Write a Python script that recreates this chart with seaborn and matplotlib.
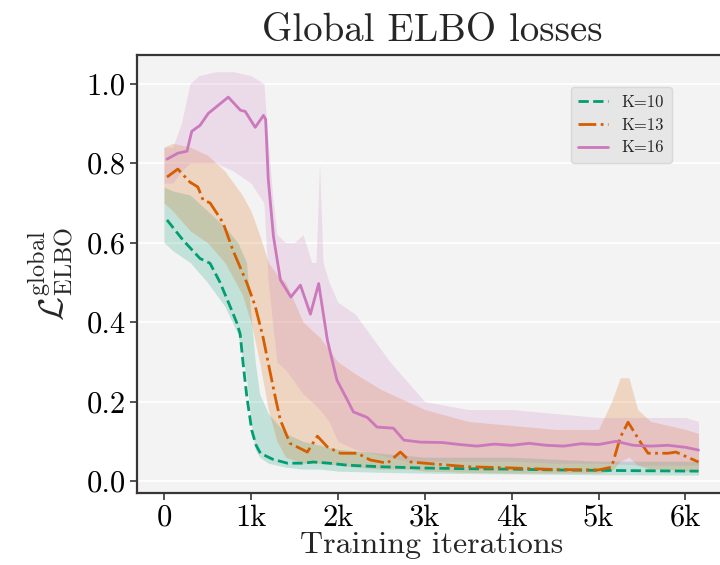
import numpy as np
import pandas as pd
import matplotlib
matplotlib.use("Agg")
import matplotlib.pyplot as plt
import seaborn as sns
from matplotlib.ticker import FuncFormatter

# ---------------- data ----------------
k10_x = [35, 220, 415, 530, 645, 760, 840, 877, 910, 955, 1010, 1060, 1110, 1250, 1420,
         1600, 1720, 1900, 2110, 2500, 2950, 3500, 4000, 4500, 5000, 5500, 6150]
k10_y = [0.657, 0.606, 0.56, 0.548, 0.5, 0.44, 0.397, 0.37, 0.297, 0.21, 0.128, 0.09, 0.07,
         0.055, 0.045, 0.045, 0.048, 0.045, 0.04, 0.036, 0.033, 0.031, 0.03, 0.028, 0.027,
         0.026, 0.025]

k13_x = [35, 160, 300, 390, 450, 530, 680, 795, 955, 1050, 1140, 1200, 1280, 1340, 1450,
         1650, 1765, 1880, 2030, 2225, 2375, 2570, 2720, 2840, 3000, 3500, 4000, 4500, 5000,
         5150, 5250, 5340, 5490, 5570, 5800, 5890, 6150]
k13_y = [0.765, 0.785, 0.752, 0.74, 0.707, 0.70, 0.65, 0.58, 0.498, 0.44, 0.362, 0.297,
         0.212, 0.153, 0.095, 0.073, 0.113, 0.086, 0.07, 0.07, 0.053, 0.045, 0.073, 0.048,
         0.045, 0.036, 0.033, 0.029, 0.028, 0.035, 0.11, 0.148, 0.095, 0.07, 0.07, 0.073,
         0.048]

k16_x = [35, 160, 265, 320, 415, 510, 740, 880, 935, 1050, 1145, 1170, 1200, 1260, 1340,
         1460, 1570, 1685, 1780, 1880, 1990, 2110, 2180, 2340, 2450, 2640, 2760, 2950, 3200,
         3400, 3600, 3800, 4000, 4200, 4400, 4600, 4800, 5000, 5200, 5400, 5600, 5800, 6000,
         6150]
k16_y = [0.81, 0.825, 0.83, 0.88, 0.895, 0.925, 0.966, 0.933, 0.93, 0.89, 0.92, 0.91,
         0.76, 0.615, 0.506, 0.463, 0.493, 0.42, 0.497, 0.355, 0.254, 0.204, 0.174, 0.16,
         0.136, 0.133, 0.103, 0.098, 0.097, 0.092, 0.088, 0.093, 0.09, 0.095, 0.09, 0.088,
         0.094, 0.092, 0.1, 0.09, 0.088, 0.09, 0.085, 0.078]

# spread of the raw (unsmoothed) losses: lower / upper envelopes
k10_band_x = [0, 100, 300, 500, 700, 850, 950, 1000, 1050, 1100, 1200, 1400, 1600, 1800,
              2000, 2500, 3000, 4000, 5000, 6150]
k10_low = [0.60, 0.58, 0.55, 0.50, 0.44, 0.37, 0.26, 0.15, 0.08, 0.06, 0.045, 0.035, 0.03,
           0.03, 0.025, 0.022, 0.02, 0.018, 0.016, 0.015]
k10_high = [0.74, 0.73, 0.72, 0.68, 0.64, 0.60, 0.55, 0.42, 0.30, 0.22, 0.17, 0.12, 0.10,
            0.09, 0.08, 0.07, 0.06, 0.06, 0.05, 0.05]

k13_band_x = [0, 100, 300, 500, 700, 900, 1000, 1100, 1200, 1300, 1400, 1600, 1800, 2000,
              2200, 2500, 2800, 3000, 3500, 4000, 4500, 5000, 5150, 5250, 5350, 5450, 5600,
              5800, 6000, 6150]
k13_low = [0.70, 0.68, 0.63, 0.60, 0.55, 0.47, 0.40, 0.30, 0.18, 0.10, 0.06, 0.045, 0.045,
           0.04, 0.035, 0.03, 0.03, 0.025, 0.022, 0.02, 0.02, 0.02, 0.025, 0.05, 0.06, 0.04,
           0.03, 0.03, 0.025, 0.025]
k13_high = [0.84, 0.85, 0.84, 0.82, 0.78, 0.72, 0.68, 0.62, 0.55, 0.52, 0.50, 0.40, 0.36,
            0.30, 0.27, 0.23, 0.20, 0.18, 0.15, 0.14, 0.13, 0.13, 0.20, 0.26, 0.26, 0.18,
            0.15, 0.14, 0.13, 0.12]

k16_band_x = [0, 100, 200, 300, 400, 600, 800, 1000, 1150, 1200, 1250, 1300, 1400, 1500,
              1600, 1700, 1750, 1790, 1830, 1900, 2000, 2200, 2400, 2600, 2800, 3000, 3500,
              4000, 4500, 5000, 5500, 6000, 6150]
k16_low = [0.75, 0.75, 0.78, 0.80, 0.80, 0.80, 0.78, 0.75, 0.70, 0.50, 0.40, 0.30, 0.28,
           0.25, 0.22, 0.20, 0.19, 0.18, 0.17, 0.15, 0.10, 0.08, 0.07, 0.06, 0.05, 0.05,
           0.05, 0.05, 0.045, 0.045, 0.04, 0.04, 0.04]
k16_high = [0.84, 0.84, 0.90, 1.00, 1.02, 1.03, 1.03, 1.02, 1.00, 0.85, 0.72, 0.62, 0.60,
            0.60, 0.62, 0.55, 0.55, 0.80, 0.55, 0.50, 0.45, 0.42, 0.36, 0.30, 0.25, 0.20,
            0.18, 0.18, 0.17, 0.16, 0.16, 0.16, 0.15]

labels = ["K=10", "K=13", "K=16"]
colors = ["#029e73", "#d55e00", "#cc78bc"]
styles = ["--", "-.", "-"]

# ---------------- style ----------------
sns.set_theme(style="darkgrid", rc={
    "axes.facecolor": "#f3f3f3",
    "figure.facecolor": "white",
    "grid.color": "white",
    "grid.linewidth": 1.3,
    "axes.edgecolor": "#3a3535",
    "axes.linewidth": 1.6,
    "xtick.bottom": True,
    "ytick.left": True,
    "xtick.color": "#3a3535",
    "ytick.color": "#3a3535",
    "xtick.major.size": 5,
    "ytick.major.size": 5,
    "xtick.major.width": 1.2,
    "ytick.major.width": 1.2,
})
plt.rcParams["font.family"] = ["cmr10", "DejaVu Serif"]
plt.rcParams["mathtext.fontset"] = "cm"
plt.rcParams["axes.formatter.use_mathtext"] = True
plt.rcParams["axes.unicode_minus"] = False

fig = plt.figure(figsize=(7.2, 5.65), dpi=100)
ax = fig.add_axes([137 / 720, (565 - 493) / 565, 1.01 - 137 / 720, (493 - 55) / 565])

bands = [(k10_band_x, k10_low, k10_high), (k13_band_x, k13_low, k13_high),
         (k16_band_x, k16_low, k16_high)]
lines = [(k10_x, k10_y), (k13_x, k13_y), (k16_x, k16_y)]

for (bx, lo, hi), c in zip(bands, colors):
    ax.fill_between(bx, lo, hi, color=c, alpha=0.2, linewidth=0)

for (lx, ly), c, ls, lab in zip(lines, colors, styles, labels):
    df = pd.DataFrame({"iter": lx, "loss": ly})
    sns.lineplot(data=df, x="iter", y="loss", ax=ax, color=c, linestyle=ls,
                 linewidth=2.0, label=lab)

ax.set_xlim(-310, 6480)
ax.set_ylim(-0.03, 1.072)
ax.set_xticks([0, 1000, 2000, 3000, 4000, 5000, 6000])
ax.xaxis.set_major_formatter(FuncFormatter(lambda v, p: "0" if v == 0 else f"{int(v/1000)}k"))
ax.set_yticks([0.0, 0.2, 0.4, 0.6, 0.8, 1.0])
ax.yaxis.set_major_formatter(FuncFormatter(lambda v, p: f"{v:.1f}"))
ax.grid(axis="x", visible=False)
ax.tick_params(axis="both", labelsize=22, pad=3, colors="#3a3535", labelcolor="black")

ax.set_title("Global ELBO losses", fontsize=28, pad=10)
ax.set_xlabel("Training iterations", fontsize=23, labelpad=0)
ax.set_ylabel(r"$\mathcal{L}^{\mathrm{global}}_{\mathrm{ELBO}}$", fontsize=25, labelpad=8)

leg = ax.legend(loc="upper right", bbox_to_anchor=(0.906, 0.927), borderaxespad=0,
                fontsize=12, frameon=True, facecolor="#e6e6e6", edgecolor="#d8d8d8",
                framealpha=1, handlelength=1.8, borderpad=0.45, labelspacing=0.45,
                handletextpad=0.8)
leg.get_frame().set_linewidth(1.0)

fig.savefig("out.png", dpi=100)
